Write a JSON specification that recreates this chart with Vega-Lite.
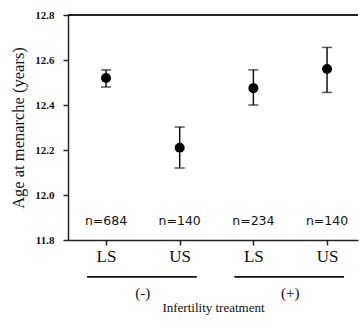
{
  "$schema": "https://vega.github.io/schema/vega-lite/v6.json",
  "autosize": {"type": "none"},
  "width": 290,
  "height": 225,
  "padding": {"left": 68, "top": 15, "right": 1, "bottom": 85},
  "background": "white",
  "config": {
    "view": {"stroke": null},
    "axis": {"domainColor": "#222", "tickColor": "#222", "domainWidth": 1.5, "tickWidth": 1.5, "grid": false, "labelColor": "#111", "titleColor": "#111"}
  },
  "data": {
    "values": [
      {"pos": 1, "lab": "LS", "grp": "(-)", "mean": 12.52, "lo": 12.48, "hi": 12.556, "n": "n=684"},
      {"pos": 2, "lab": "US", "grp": "(-)", "mean": 12.21, "lo": 12.12, "hi": 12.302, "n": "n=140"},
      {"pos": 3, "lab": "LS", "grp": "(+)", "mean": 12.475, "lo": 12.40, "hi": 12.556, "n": "n=234"},
      {"pos": 4, "lab": "US", "grp": "(+)", "mean": 12.56, "lo": 12.456, "hi": 12.656, "n": "n=140"}
    ]
  },
  "encoding": {
    "x": {
      "field": "pos", "type": "quantitative",
      "scale": {"domain": [0.484, 4.42], "nice": false, "zero": false},
      "axis": {
        "values": [1, 2, 3, 4],
        "labelExpr": "datum.value % 2 == 1 ? 'LS' : 'US'",
        "labelFont": "Liberation Serif", "labelFontSize": 17, "labelPadding": 3,
        "tickSize": 5,
        "title": "Infertility treatment", "titleFont": "Liberation Serif", "titleFontSize": 13, "titleFontWeight": "normal", "titlePadding": 37
      }
    }
  },
  "layer": [
    {
      "mark": {"type": "rule", "color": "#222", "strokeWidth": 1.5},
      "encoding": {"x": null, "y": {"datum": 12.8, "type": "quantitative", "scale": {"domain": [11.8, 12.8], "nice": false, "zero": false}}}
    },
    {
      "mark": {"type": "rule", "color": "#111", "strokeWidth": 1.5},
      "encoding": {
        "y": {"field": "lo", "type": "quantitative",
          "scale": {"domain": [11.8, 12.8], "nice": false, "zero": false},
          "axis": {
            "values": [11.8, 12.0, 12.2, 12.4, 12.6, 12.8], "format": ".1f",
            "labelFont": "Liberation Serif", "labelFontSize": 11, "labelFontWeight": "bold", "labelPadding": 9,
            "tickSize": 5,
            "title": "Age at menarche (years)", "titleFont": "Liberation Serif", "titleFontSize": 16.5, "titleFontWeight": "normal", "titlePadding": 8
          }
        },
        "y2": {"field": "hi"}
      }
    },
    {
      "mark": {"type": "tick", "orient": "horizontal", "color": "#111", "size": 10, "thickness": 1.5},
      "encoding": {"y": {"field": "lo", "type": "quantitative"}}
    },
    {
      "mark": {"type": "tick", "orient": "horizontal", "color": "#111", "size": 10, "thickness": 1.5},
      "encoding": {"y": {"field": "hi", "type": "quantitative"}}
    },
    {
      "mark": {"type": "circle", "color": "#000", "opacity": 1, "size": 100},
      "encoding": {"y": {"field": "mean", "type": "quantitative"}}
    },
    {
      "mark": {"type": "text", "font": "DejaVu Sans", "fontSize": 12.5, "color": "#111", "baseline": "middle"},
      "encoding": {"y": {"datum": 11.886, "type": "quantitative"}, "text": {"field": "n"}}
    },
    {
      "mark": {"type": "rule", "color": "#111", "strokeWidth": 1.8, "xOffset": -19, "x2Offset": 17},
      "encoding": {
        "x": {"aggregate": "min", "field": "pos", "type": "quantitative"},
        "x2": {"aggregate": "max", "field": "pos"},
        "y": {"datum": 11.636, "type": "quantitative"},
        "detail": {"field": "grp"}
      }
    },
    {
      "mark": {"type": "text", "font": "Liberation Serif", "fontSize": 15, "color": "#111", "baseline": "middle"},
      "encoding": {
        "x": {"aggregate": "mean", "field": "pos", "type": "quantitative"},
        "y": {"datum": 11.566, "type": "quantitative"},
        "text": {"field": "grp"}
      }
    }
  ]
}
